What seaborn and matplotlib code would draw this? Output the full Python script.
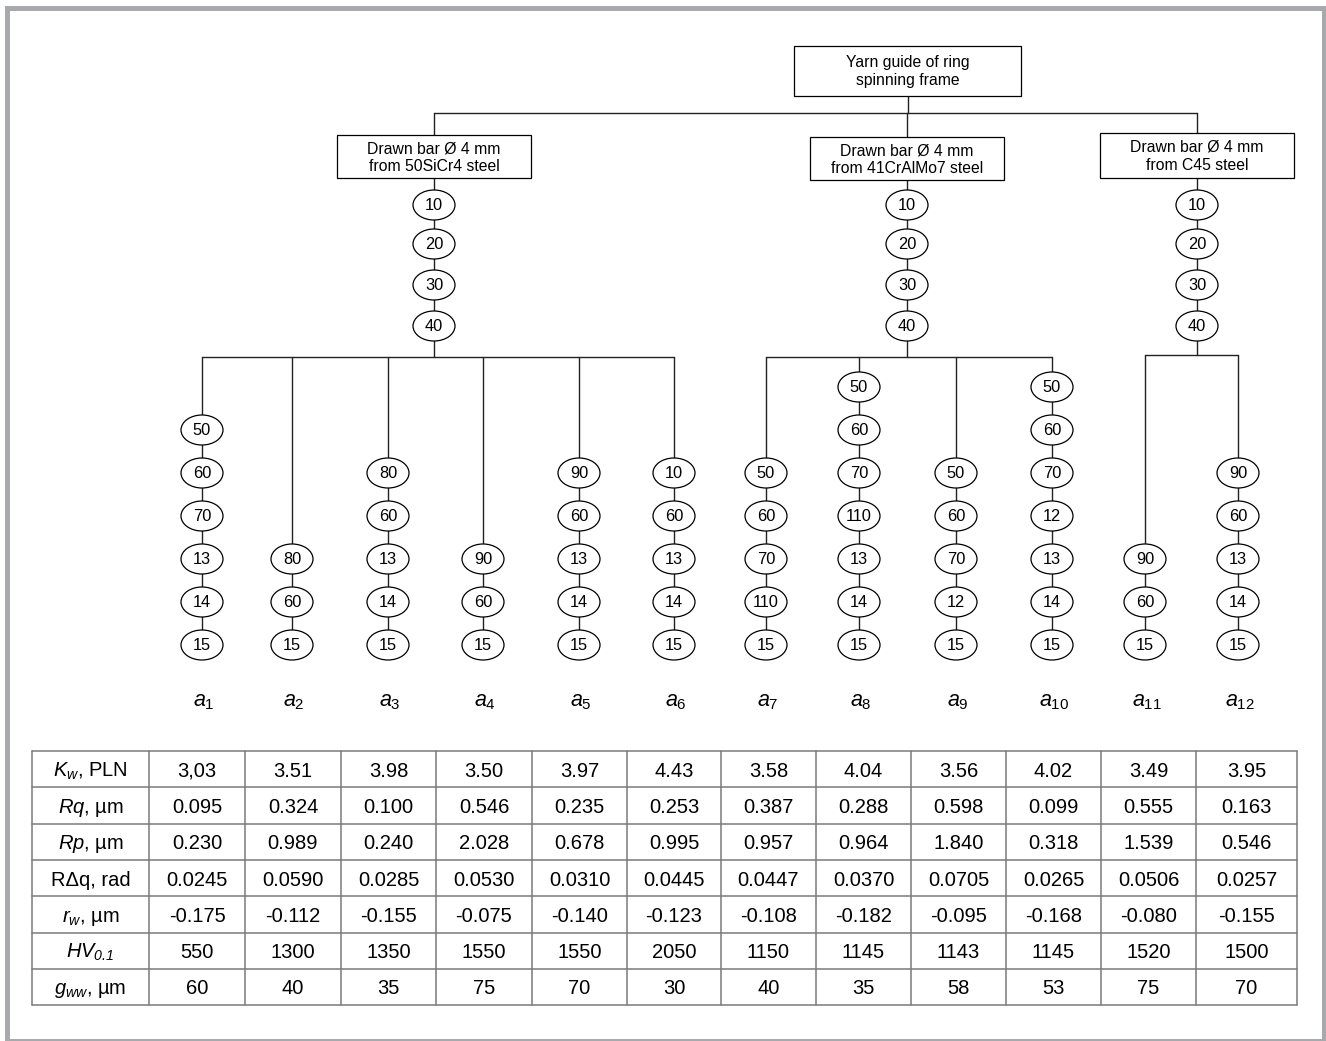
#!/usr/bin/env python3
"""
Scheme of yarn-guide manufacturing variants (a1..a12) with the table of
resulting cost / surface / hardness parameters underneath.
"""

import matplotlib
matplotlib.use("Agg")
import matplotlib.pyplot as plt
from matplotlib.patches import Ellipse, Rectangle
import seaborn as sns


# === Data ===
ROOT_LABEL = "Yarn guide of ring\nspinning frame"
MATERIAL_LABELS = [
    "Drawn bar Ø 4 mm\nfrom 50SiCr4 steel",
    "Drawn bar Ø 4 mm\nfrom 41CrAlMo7 steel",
    "Drawn bar Ø 4 mm\nfrom C45 steel",
]
COMMON_OPS = ["10", "20", "30", "40"]

# material group of each variant, and its chain of operations (top -> bottom)
VARIANT_GROUP = [0, 0, 0, 0, 0, 0, 1, 1, 1, 1, 2, 2]
VARIANT_OPS = [
    ["50", "60", "70", "13", "14", "15"],
    ["80", "60", "15"],
    ["80", "60", "13", "14", "15"],
    ["90", "60", "15"],
    ["90", "60", "13", "14", "15"],
    ["10", "60", "13", "14", "15"],
    ["50", "60", "70", "110", "15"],
    ["50", "60", "70", "110", "13", "14", "15"],
    ["50", "60", "70", "12", "15"],
    ["50", "60", "70", "12", "13", "14", "15"],
    ["90", "60", "15"],
    ["90", "60", "13", "14", "15"],
]
VARIANT_NAMES = [f"$a_{{{i}}}$" for i in range(1, 13)]

ROW_LABELS = [
    "$K_w$, PLN",
    "$Rq$, µm",
    "$Rp$, µm",
    "RΔq, rad",
    "$r_w$, µm",
    "$HV_{\\mathsf{0.1}}$",
    "$g_{ww}$, µm",
]
KW_PLN = ["3,03", "3.51", "3.98", "3.50", "3.97", "4.43", "3.58", "4.04", "3.56", "4.02", "3.49", "3.95"]
RQ_UM = ["0.095", "0.324", "0.100", "0.546", "0.235", "0.253", "0.387", "0.288", "0.598", "0.099", "0.555", "0.163"]
RP_UM = ["0.230", "0.989", "0.240", "2.028", "0.678", "0.995", "0.957", "0.964", "1.840", "0.318", "1.539", "0.546"]
RDQ_RAD = ["0.0245", "0.0590", "0.0285", "0.0530", "0.0310", "0.0445", "0.0447", "0.0370", "0.0705", "0.0265", "0.0506", "0.0257"]
RW_UM = ["-0.175", "-0.112", "-0.155", "-0.075", "-0.140", "-0.123", "-0.108", "-0.182", "-0.095", "-0.168", "-0.080", "-0.155"]
HV01 = ["550", "1300", "1350", "1550", "1550", "2050", "1150", "1145", "1143", "1145", "1520", "1500"]
GWW_UM = ["60", "40", "35", "75", "70", "30", "40", "35", "58", "53", "75", "70"]
TABLE_ROWS = [KW_PLN, RQ_UM, RP_UM, RDQ_RAD, RW_UM, HV01, GWW_UM]


# === Layout (pixel units, y downwards) ===
W, H = 1326, 1041
ROOT_BOX = (794, 46, 1021, 96)
MAT_X = [434, 907, 1197]
MAT_BOX_Y = [(135, 178), (137, 180), (133, 178)]
MAT_BOX_W = 194
BUS_Y = 113
CHAIN_Y = [205, 244, 285, 326]
JUNCTION_Y = [357, 357, 355]
VAR_X = [202, 292, 388, 483, 579, 674, 766, 859, 956, 1052, 1145, 1238]
ROW_Y = [387, 430, 473, 516, 559, 602, 645]
NAME_Y = 700
NODE_W, NODE_H = 42, 30

COL_EDGES = [32, 149, 245, 341, 436, 532, 627, 721, 816, 911, 1006, 1101, 1196, 1297]
TABLE_TOP, ROW_H = 751, 36.3
TABLE_FS = 14.5

LINE_KW = dict(color="#222222", lw=1.0, zorder=1)


def node(ax, x, y, label):
    ax.add_patch(Ellipse((x, y), NODE_W, NODE_H, fc="white", ec="black", lw=0.9, zorder=2))
    ax.text(x, y + 0.5, label, ha="center", va="center", fontsize=11.8, zorder=3)


def box(ax, x0, y0, x1, y1, label):
    ax.add_patch(Rectangle((x0, y0), x1 - x0, y1 - y0, fc="white", ec="black", lw=0.9, zorder=2))
    ax.text((x0 + x1) / 2, (y0 + y1) / 2 + 1, label, ha="center", va="center",
            fontsize=11.3, linespacing=1.25, zorder=3)


# === Tree ===
def draw_tree(ax):
    box(ax, *ROOT_BOX, ROOT_LABEL)
    root_x = (ROOT_BOX[0] + ROOT_BOX[2]) / 2
    ax.plot([root_x, root_x], [ROOT_BOX[3], BUS_Y], **LINE_KW)
    ax.plot([MAT_X[0], MAT_X[-1]], [BUS_Y, BUS_Y], **LINE_KW)

    for g, (mx, (y0, y1), label) in enumerate(zip(MAT_X, MAT_BOX_Y, MATERIAL_LABELS)):
        ax.plot([mx, mx], [BUS_Y, y0], **LINE_KW)
        box(ax, mx - MAT_BOX_W / 2, y0, mx + MAT_BOX_W / 2, y1, label)
        ax.plot([mx, mx], [y1, JUNCTION_Y[g]], **LINE_KW)
        for cy, op in zip(CHAIN_Y, COMMON_OPS):
            node(ax, mx, cy, op)
        xs = [VAR_X[i] for i, gg in enumerate(VARIANT_GROUP) if gg == g]
        ax.plot([min(xs), max(xs)], [JUNCTION_Y[g]] * 2, **LINE_KW)

    for i, ops in enumerate(VARIANT_OPS):
        x = VAR_X[i]
        ys = ROW_Y[len(ROW_Y) - len(ops):]
        ax.plot([x, x], [JUNCTION_Y[VARIANT_GROUP[i]], ys[-1]], **LINE_KW)
        for y, op in zip(ys, ops):
            node(ax, x, y, op)
        ax.text(x + 2, NAME_Y + 6, VARIANT_NAMES[i], ha="center", va="baseline", fontsize=15.5)


# === Table ===
def draw_table(ax):
    grid = dict(color="#7a7a7a", lw=1.1, zorder=1)
    n_rows = len(TABLE_ROWS)
    bottom = TABLE_TOP + n_rows * ROW_H
    for r in range(n_rows + 1):
        y = TABLE_TOP + r * ROW_H
        ax.plot([COL_EDGES[0], COL_EDGES[-1]], [y, y], **grid)
    for x in COL_EDGES:
        ax.plot([x, x], [TABLE_TOP, bottom], **grid)

    for r, (label, values) in enumerate(zip(ROW_LABELS, TABLE_ROWS)):
        base = TABLE_TOP + (r + 0.5) * ROW_H + 7.5
        ax.text((COL_EDGES[0] + COL_EDGES[1]) / 2, base, label, ha="center", va="baseline", fontsize=TABLE_FS)
        for c, val in enumerate(values):
            xc = (COL_EDGES[c + 1] + COL_EDGES[c + 2]) / 2
            ax.text(xc, base, val, ha="center", va="baseline", fontsize=TABLE_FS)


def main():
    sns.set_theme(style="white")
    plt.rcParams["font.family"] = ["Liberation Sans", "DejaVu Sans"]
    plt.rcParams["mathtext.fontset"] = "custom"
    plt.rcParams["mathtext.rm"] = "Liberation Sans"
    plt.rcParams["mathtext.it"] = "Liberation Sans:italic"
    plt.rcParams["mathtext.sf"] = "Liberation Sans:italic"
    plt.rcParams["text.color"] = "black"

    fig = plt.figure(figsize=(W / 100, H / 100), dpi=100)
    ax = fig.add_axes([0, 0, 1, 1])
    ax.set_xlim(0, W)
    ax.set_ylim(H, 0)
    ax.axis("off")

    # grey frame around the figure
    ax.add_patch(Rectangle((6.5, 7.5), 1317, 1033, fill=False, ec="#a7a9ac", lw=3.6, zorder=0))

    draw_tree(ax)
    draw_table(ax)

    fig.savefig("out.png", dpi=100, facecolor="white")
    plt.close(fig)


if __name__ == "__main__":
    main()
